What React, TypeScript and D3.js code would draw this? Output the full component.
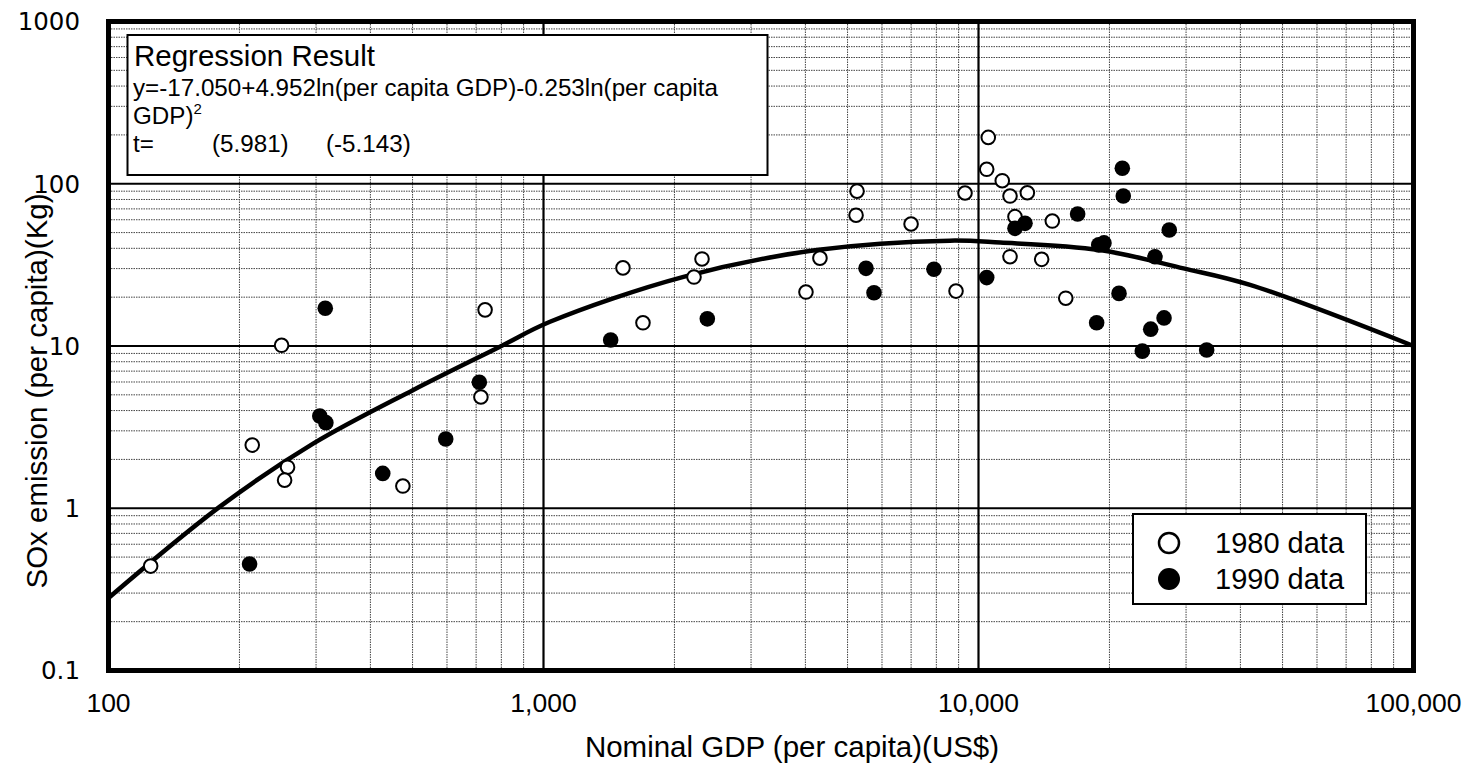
import React from "react";
import * as d3 from "d3";

// ---- data ----
const gdp1980 = [125, 214, 250, 258, 254, 475, 718, 734, 1523, 1693, 2218, 2314, 4012, 4320, 5257, 5230, 6998, 9311, 8878, 10531, 10444, 11340, 11815, 12950, 12130, 14780, 11815, 13970, 15870];
const sox1980 = [0.44, 2.45, 10.1, 1.79, 1.49, 1.37, 4.85, 16.7, 30.3, 13.9, 26.6, 34.4, 21.5, 34.8, 90, 64, 56.5, 87.7, 21.8, 193, 122.8, 104.4, 84, 88, 62.7, 58.9, 35.5, 34.2, 19.7];

const gdp1990 = [315, 306, 316, 211, 427, 596, 712, 1427, 2380, 5513, 5751, 7900, 10444, 21410, 21520, 16900, 12130, 12790, 18900, 19430, 27450, 25450, 21040, 18690, 24880, 26700, 23800, 33460];
const sox1990 = [17.1, 3.7, 3.37, 0.453, 1.64, 2.67, 5.98, 10.9, 14.7, 30.1, 21.3, 29.7, 26.4, 124.5, 84, 65.1, 53.1, 57, 42, 43.2, 51.9, 35.5, 21.1, 13.9, 12.7, 14.9, 9.3, 9.45];

// regression curve, points
const curveGdp = [100, 180, 296, 502, 794, 1035, 2098, 4246, 8590, 11220, 19000, 29600, 42100, 100000];
const curveSox = [0.28, 1.02, 2.51, 5.36, 9.9, 14.1, 26.7, 39, 44.6, 43.4, 39, 30.1, 23.8, 10];

const xTicks = [100, 1000, 10000, 100000];
const xTickLabels = ["100", "1,000", "10,000", "100,000"];
const yTicks = [0.1, 1, 10, 100, 1000];
const yTickLabels = ["0.1", "1", "10", "100", "1000"];

const legendLabels = ["1980 data", "1990 data"];

export default function App() {
  const left = 108.5, right = 1413.5, top = 21.5, bottom = 670.5;
  const x = d3.scaleLog().domain([100, 100000]).range([left, right]);
  const y = d3.scaleLog().domain([0.1, 1000]).range([bottom, top]);

  const minorX: number[] = [];
  [100, 1000, 10000].forEach((d) => { for (let k = 2; k <= 9; k++) minorX.push(d * k); });
  const minorY: number[] = [];
  [0.1, 1, 10, 100].forEach((d) => { for (let k = 2; k <= 9; k++) minorY.push(d * k); });

  const curvePts: [number, number][] = curveGdp.map((g, i) => [x(g), y(curveSox[i])]);
  const line = d3.line().curve(d3.curveCatmullRom.alpha(0.5))(curvePts) || "";

  const font = "'Liberation Sans', Arial, sans-serif";

  return (
    <div style={{ position: "absolute", left: 0, top: 0 }}>
      <svg width={1474} height={770} style={{ display: "block", background: "#fff" }} fontFamily={font}>
        <rect x={0} y={0} width={1474} height={770} fill="#fff" />
        {/* minor grid */}
        {minorX.map((v, i) => (
          <line key={"mx" + i} x1={x(v)} x2={x(v)} y1={top} y2={bottom} stroke="#444" strokeWidth={1} strokeDasharray="1.5,1" />
        ))}
        {minorY.map((v, i) => (
          <line key={"my" + i} x1={left} x2={right} y1={y(v)} y2={y(v)} stroke="#444" strokeWidth={1} strokeDasharray="1.5,1" />
        ))}
        {/* major grid */}
        {xTicks.map((v, i) => (
          <line key={"Mx" + i} x1={x(v)} x2={x(v)} y1={top} y2={bottom} stroke="#000" strokeWidth={2.2} />
        ))}
        {yTicks.map((v, i) => (
          <line key={"My" + i} x1={left} x2={right} y1={y(v)} y2={y(v)} stroke="#000" strokeWidth={2.2} />
        ))}
        {/* regression curve */}
        <path d={line} fill="none" stroke="#000" strokeWidth={4.5} />
        {/* points */}
        {gdp1980.map((g, i) => (
          <circle key={"a" + i} cx={x(g)} cy={y(sox1980[i])} r={6.8} fill="#fff" stroke="#000" strokeWidth={2} />
        ))}
        {gdp1990.map((g, i) => (
          <circle key={"b" + i} cx={x(g)} cy={y(sox1990[i])} r={7.8} fill="#000" />
        ))}
        {/* regression box */}
        <rect x={127.5} y={35} width={640} height={140} fill="#fff" stroke="#000" strokeWidth={2} />
        <text x={134} y={66} fontSize={29.5}>Regression Result</text>
        <text x={133} y={96} fontSize={24.2}>y=-17.050+4.952ln(per capita GDP)-0.253ln(per capita</text>
        <text x={133} y={124} fontSize={24.2}>GDP)<tspan fontSize={15} dy={-10}>2</tspan></text>
        <text x={133} y={152} fontSize={24.2}>t=</text>
        <text x={212} y={152} fontSize={24.2}>(5.981)</text>
        <text x={326} y={152} fontSize={24.2}>(-5.143)</text>
        {/* legend */}
        <rect x={1133} y={514} width={233} height={90} fill="#fff" stroke="#000" strokeWidth={2} />
        <circle cx={1169} cy={543} r={10} fill="#fff" stroke="#000" strokeWidth={2.5} />
        <circle cx={1169} cy={579} r={11} fill="#000" />
        <text x={1215} y={553} fontSize={29}>{legendLabels[0]}</text>
        <text x={1215} y={589} fontSize={29}>{legendLabels[1]}</text>
        {/* frame */}
        <rect x={left} y={top} width={right - left} height={bottom - top} fill="none" stroke="#000" strokeWidth={5} />
        {/* tick labels */}
        {xTicks.map((v, i) => (
          <text key={"xt" + i} x={x(v)} y={712} fontSize={26.5} textAnchor="middle">{xTickLabels[i]}</text>
        ))}
        {yTicks.map((v, i) => (
          <text key={"yt" + i} x={80} y={y(v)} dy="0.36em" fontSize={24.5} textAnchor="end" fontFamily="'DejaVu Sans', sans-serif">{yTickLabels[i]}</text>
        ))}
        {/* axis titles */}
        <text x={792} y={757} fontSize={29.5} textAnchor="middle">Nominal GDP (per capita)(US$)</text>
        <text transform="translate(47,391) rotate(-90)" fontSize={29.5} textAnchor="middle">SOx emission (per capita)(Kg)</text>
      </svg>
    </div>
  );
}
